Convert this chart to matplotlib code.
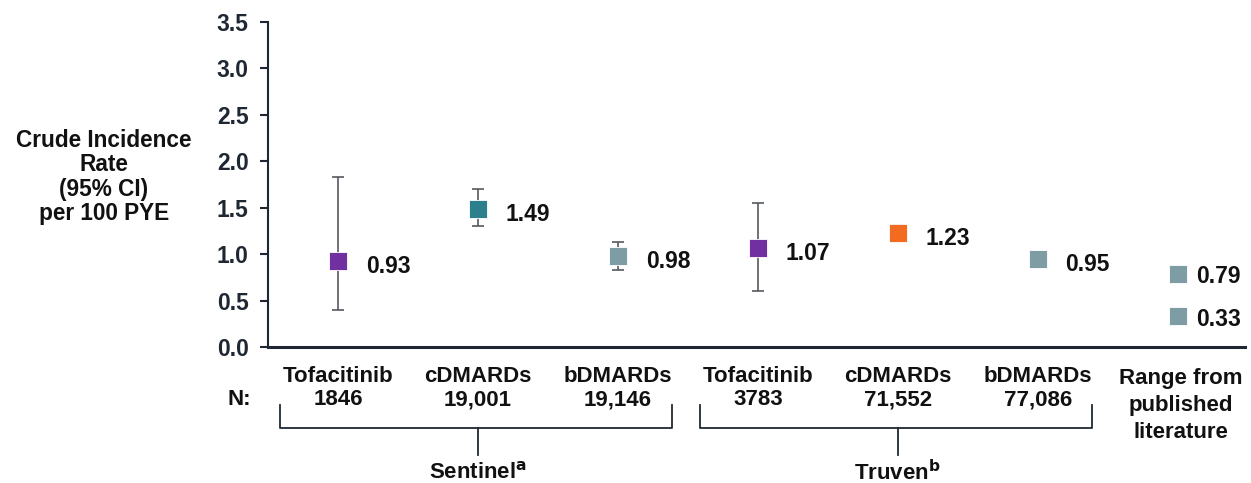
import matplotlib
matplotlib.use("Agg")
import matplotlib.pyplot as plt
import matplotlib.transforms as mtransforms

plt.rcParams['font.family'] = ['Liberation Sans', 'DejaVu Sans']
plt.rcParams['font.weight'] = 'bold'

# ---- data ----
categories = ["Tofacitinib", "cDMARDs", "bDMARDs", "Tofacitinib", "cDMARDs", "bDMARDs", "Range from\npublished\nliterature"]
n_labels = ["1846", "19,001", "19,146", "3783", "71,552", "77,086", ""]
rates = [0.93, 1.49, 0.98, 1.07, 1.23, 0.95]
ci_low = [0.40, 1.30, 0.83, 0.60, 1.15, 0.95]
ci_high = [1.83, 1.70, 1.13, 1.55, 1.31, 0.95]
marker_colors = ["#7030A0", "#2E7F8E", "#7D9CA3", "#7030A0", "#F26B21", "#7D9CA3"]
lit_range = [0.79, 0.33]
lit_color = "#7D9CA3"
groups = ["Sentinel$^{\\mathbf{a}}$", "Truven$^{\\mathbf{b}}$"]
group_members = [(0, 2), (3, 5)]
yticks = [0.0, 0.5, 1.0, 1.5, 2.0, 2.5, 3.0, 3.5]

W, H = 1251, 483
fig = plt.figure(figsize=(W / 100, H / 100), dpi=100)
ax = fig.add_axes([268 / W, (H - 347) / H, (1245 - 268) / W, 325 / H])

dark = "#1F2733"
txt = "#111111"
fs_lab = 16
fs_val = 16.5

for i, (r, lo, hi, c) in enumerate(zip(rates, ci_low, ci_high, marker_colors)):
    ax.errorbar(i, r, yerr=[[r - lo], [hi - r]], fmt='none', ecolor="#555A60",
                elinewidth=1.2, capsize=4, capthick=1.2, zorder=2)
    ax.plot(i, r, marker='s', markersize=12.5, color=c, markeredgecolor='white',
            markeredgewidth=0.6, linestyle='none', zorder=3)
    ax.annotate(f"{r:.2f}", (i, r), xytext=(20, -4), textcoords='offset points',
                ha='left', va='center', fontsize=fs_val, fontweight='bold', color=txt)

lit_x = len(rates)
for v in lit_range:
    ax.plot(lit_x, v, marker='s', markersize=12.5, color=lit_color, markeredgecolor='white',
            markeredgewidth=0.6, linestyle='none', zorder=3)
    ax.annotate(f"{v:.2f}", (lit_x, v), xytext=(13, -2), textcoords='offset points',
                ha='left', va='center', fontsize=fs_val, fontweight='bold', color=txt)

ax.set_xlim(-0.5, 6.48)
ax.set_ylim(0, 3.5)
ax.set_yticks(yticks)
ax.set_yticklabels([f"{t:.1f}" for t in yticks], fontsize=16.5, fontweight='bold', color=dark)
ax.set_xticks([])
for s in ['top', 'right']:
    ax.spines[s].set_visible(False)
ax.spines['left'].set_color(dark)
ax.spines['left'].set_linewidth(1.5)
ax.spines['bottom'].set_color(dark)
ax.spines['bottom'].set_linewidth(2.2)
ax.tick_params(axis='y', direction='out', length=6, width=1.5, color=dark, pad=8)

fig.text(104 / W, (H - 177) / H, "Crude Incidence\nRate\n(95% CI)\nper 100 PYE",
         ha='center', va='center', fontsize=16.3, fontweight='bold', color=txt, linespacing=1.08)

trans = mtransforms.blended_transform_factory(ax.transData, ax.transAxes)
for i, (cat, n) in enumerate(zip(categories, n_labels)):
    if "\n" in cat:
        ax.text(i + 0.02, -0.066, cat, transform=trans, ha='center', va='top',
                fontsize=fs_lab, fontweight='bold', color=txt, linespacing=1.35)
    else:
        ax.text(i, -0.092, cat, transform=trans, ha='center', va='center',
                fontsize=fs_lab, fontweight='bold', color=txt)
        ax.text(i, -0.162, n, transform=trans, ha='center', va='center',
                fontsize=fs_lab, fontweight='bold', color=txt)
ax.text(-0.704, -0.162, "N:", transform=trans, ha='center', va='center',
        fontsize=fs_lab, fontweight='bold', color=txt)

y_top, y_bar, y_stem, y_lab = -0.178, -0.249, -0.332, -0.385
for name, (a, b) in zip(groups, group_members):
    xl, xr = a - 0.414, b + 0.386
    xm = (a + b) / 2
    ax.plot([xl, xl, xr, xr], [y_top, y_bar, y_bar, y_top], transform=trans,
            color=dark, lw=1.3, clip_on=False)
    ax.plot([xm, xm], [y_bar, y_stem], transform=trans, color=dark, lw=1.3, clip_on=False)
    ax.text(xm, y_lab, name, transform=trans, ha='center', va='center',
            fontsize=fs_lab, fontweight='bold', color=txt)

fig.savefig("out.png", dpi=100)
